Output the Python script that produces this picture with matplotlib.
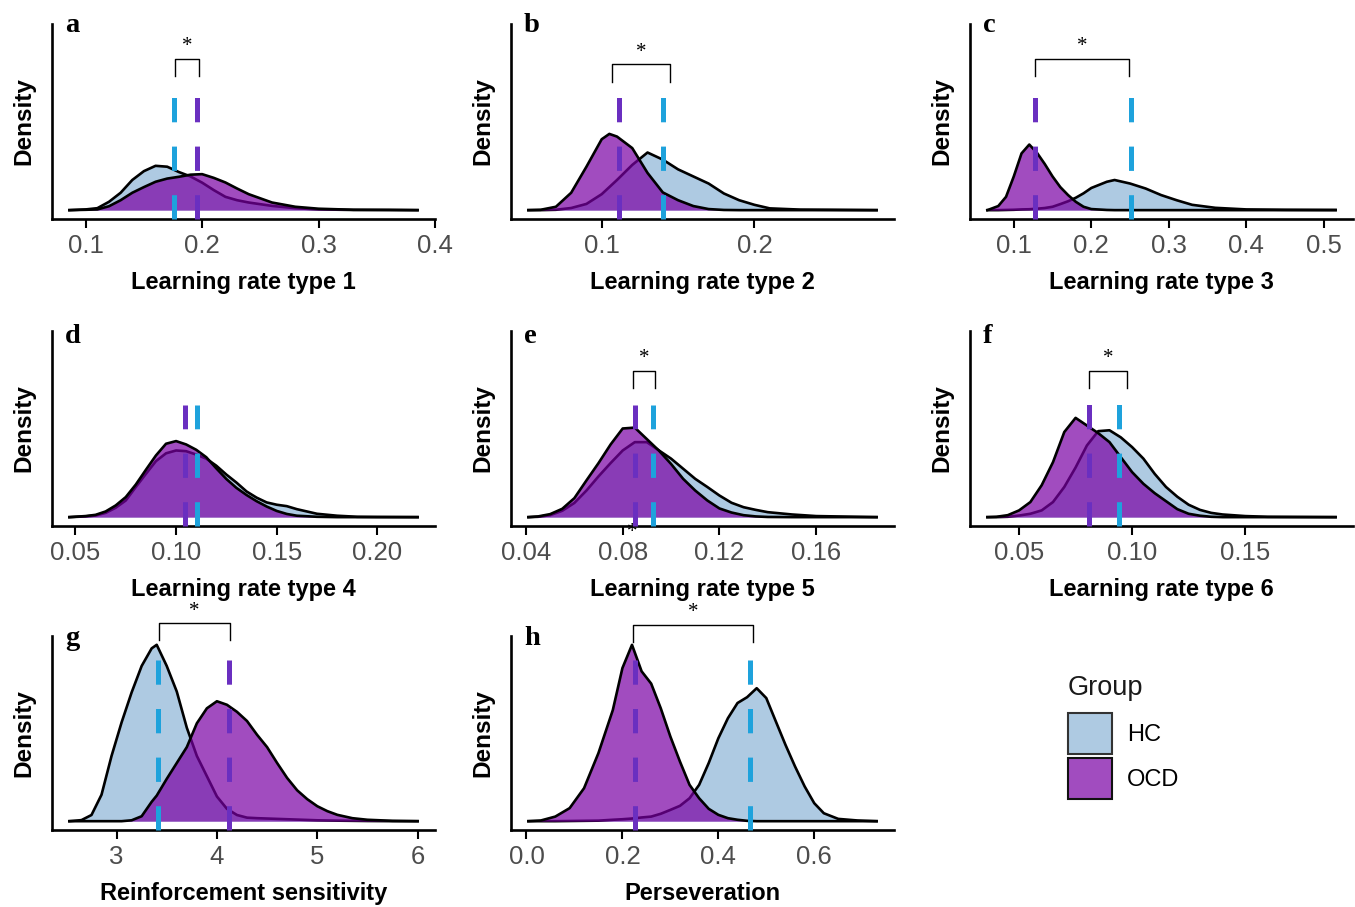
import numpy as np
import matplotlib.pyplot as plt
from matplotlib.patches import Patch
from matplotlib.colors import to_rgba

plt.rcParams['font.family'] = ['Liberation Sans', 'DejaVu Sans']

#---- density curves (relative height, 1 = top of data range)

# a - learning rate type 1
x_lr1 = [0.086, 0.10, 0.11, 0.12, 0.13, 0.14, 0.15, 0.16, 0.17, 0.18, 0.19, 0.20, 0.21,
         0.22, 0.23, 0.24, 0.26, 0.28, 0.30, 0.33, 0.36, 0.385]
hc_lr1 = [0.0, 0.004, 0.011, 0.047, 0.098, 0.17, 0.22, 0.25, 0.245, 0.215, 0.19, 0.155, 0.113,
          0.075, 0.056, 0.043, 0.024, 0.011, 0.004, 0.001, 0.001, 0.0]
ocd_lr1 = [0.0, 0.002, 0.004, 0.022, 0.056, 0.098, 0.13, 0.16, 0.178, 0.188, 0.20, 0.203, 0.182,
           0.156, 0.122, 0.09, 0.043, 0.019, 0.008, 0.002, 0.001, 0.0]

# b - learning rate type 2
x_lr2 = [0.052, 0.06, 0.07, 0.08, 0.09, 0.10, 0.105, 0.11, 0.12, 0.13, 0.14, 0.15, 0.16,
         0.17, 0.18, 0.19, 0.20, 0.21, 0.23, 0.25, 0.28]
hc_lr2 = [0.0, 0.0, 0.002, 0.012, 0.035, 0.09, 0.13, 0.17, 0.255, 0.325, 0.285, 0.23, 0.19,
          0.15, 0.094, 0.056, 0.03, 0.01, 0.003, 0.002, 0.0]
ocd_lr2 = [0.0, 0.002, 0.019, 0.098, 0.245, 0.40, 0.43, 0.415, 0.35, 0.21, 0.10, 0.056, 0.023,
           0.006, 0.001, 0.0, 0.0, 0.0, 0.0, 0.0, 0.0]

# c - learning rate type 3
x_lr3 = [0.066, 0.08, 0.09, 0.10, 0.11, 0.12, 0.13, 0.14, 0.15, 0.16, 0.17, 0.18, 0.19, 0.20,
         0.22, 0.23, 0.25, 0.27, 0.29, 0.31, 0.33, 0.36, 0.40, 0.45, 0.515]
hc_lr3 = [0.0, 0.0, 0.001, 0.002, 0.004, 0.005, 0.008, 0.012, 0.019, 0.034, 0.05, 0.07, 0.095,
          0.125, 0.16, 0.17, 0.15, 0.122, 0.085, 0.056, 0.03, 0.013, 0.004, 0.002, 0.001]
ocd_lr3 = [0.0, 0.023, 0.075, 0.19, 0.32, 0.37, 0.323, 0.26, 0.19, 0.13, 0.085, 0.047, 0.019,
           0.006, 0.001, 0.0, 0.0, 0.0, 0.0, 0.0, 0.0, 0.0, 0.0, 0.0, 0.0]

# d - learning rate type 4
x_lr4 = [0.047, 0.055, 0.06, 0.065, 0.07, 0.075, 0.08, 0.085, 0.09, 0.095, 0.10, 0.105, 0.11,
         0.115, 0.12, 0.125, 0.13, 0.135, 0.14, 0.145, 0.15, 0.155, 0.16, 0.17, 0.18, 0.19,
         0.20, 0.22]
hc_lr4 = [0.0, 0.004, 0.009, 0.024, 0.053, 0.094, 0.17, 0.244, 0.316, 0.36, 0.376, 0.372, 0.353,
          0.33, 0.29, 0.24, 0.195, 0.145, 0.11, 0.083, 0.07, 0.062, 0.045, 0.019, 0.008, 0.002,
          0.001, 0.0]
ocd_lr4 = [0.0, 0.006, 0.013, 0.032, 0.066, 0.113, 0.184, 0.267, 0.348, 0.414, 0.429, 0.41, 0.38,
           0.338, 0.275, 0.215, 0.165, 0.125, 0.09, 0.06, 0.035, 0.018, 0.008, 0.002, 0.0, 0.0,
           0.0, 0.0]

# e - learning rate type 5
x_lr5 = [0.041, 0.045, 0.05, 0.055, 0.06, 0.065, 0.07, 0.075, 0.08, 0.085, 0.09, 0.095, 0.10,
         0.105, 0.11, 0.115, 0.12, 0.125, 0.13, 0.135, 0.14, 0.15, 0.16, 0.185]
hc_lr5 = [0.0, 0.002, 0.011, 0.036, 0.08, 0.15, 0.23, 0.305, 0.376, 0.423, 0.423, 0.376, 0.33,
          0.273, 0.216, 0.17, 0.122, 0.081, 0.056, 0.041, 0.028, 0.015, 0.006, 0.0]
ocd_lr5 = [0.0, 0.004, 0.017, 0.047, 0.107, 0.207, 0.305, 0.41, 0.50, 0.505, 0.44, 0.375, 0.30,
           0.216, 0.15, 0.094, 0.049, 0.026, 0.011, 0.004, 0.001, 0.0, 0.0, 0.0]

# f - learning rate type 6
x_lr6 = [0.036, 0.04, 0.045, 0.05, 0.055, 0.06, 0.065, 0.07, 0.075, 0.08, 0.085, 0.09, 0.095,
         0.10, 0.105, 0.11, 0.115, 0.12, 0.125, 0.13, 0.135, 0.14, 0.15, 0.16, 0.175, 0.19]
hc_lr6 = [0.0, 0.0, 0.002, 0.009, 0.019, 0.038, 0.085, 0.17, 0.28, 0.404, 0.485, 0.49, 0.45,
          0.395, 0.33, 0.244, 0.17, 0.115, 0.07, 0.041, 0.024, 0.015, 0.006, 0.002, 0.001, 0.0]
ocd_lr6 = [0.0, 0.002, 0.011, 0.038, 0.085, 0.18, 0.31, 0.48, 0.56, 0.517, 0.474, 0.423, 0.338,
           0.254, 0.188, 0.135, 0.09, 0.045, 0.019, 0.008, 0.002, 0.0, 0.0, 0.0, 0.0, 0.0]

# g - reinforcement sensitivity
x_rs = [2.53, 2.65, 2.75, 2.85, 2.95, 3.05, 3.15, 3.25, 3.35, 3.40, 3.5, 3.6, 3.7, 3.8, 3.9,
        4.0, 4.1, 4.2, 4.3, 4.4, 4.5, 4.6, 4.7, 4.8, 4.9, 5.0, 5.1, 5.2, 5.35, 5.5, 5.75, 6.0]
hc_rs = [0.0, 0.006, 0.035, 0.15, 0.37, 0.56, 0.73, 0.88, 0.98, 1.0, 0.88, 0.735, 0.53, 0.37,
         0.255, 0.14, 0.07, 0.035, 0.02, 0.017, 0.015, 0.013, 0.011, 0.009, 0.007, 0.005, 0.004,
         0.003, 0.002, 0.001, 0.0, 0.0]
ocd_rs = [0.0, 0.0, 0.0, 0.0, 0.0, 0.0, 0.005, 0.028, 0.11, 0.145, 0.24, 0.33, 0.42, 0.555,
          0.64, 0.68, 0.66, 0.62, 0.568, 0.49, 0.42, 0.33, 0.245, 0.175, 0.125, 0.085, 0.057,
          0.036, 0.017, 0.008, 0.002, 0.0]

# h - perseveration
x_pers = [0.004, 0.03, 0.06, 0.09, 0.12, 0.15, 0.18, 0.20, 0.22, 0.24, 0.26, 0.28, 0.30, 0.32,
          0.34, 0.36, 0.38, 0.40, 0.42, 0.44, 0.46, 0.48, 0.50, 0.52, 0.54, 0.56, 0.58, 0.60,
          0.62, 0.65, 0.69, 0.73]
hc_pers = [0.0, 0.0, 0.0, 0.001, 0.002, 0.003, 0.008, 0.011, 0.015, 0.021, 0.026, 0.042, 0.064,
           0.087, 0.13, 0.206, 0.33, 0.47, 0.584, 0.67, 0.703, 0.754, 0.698, 0.565, 0.433, 0.31,
           0.197, 0.102, 0.045, 0.013, 0.004, 0.0]
ocd_pers = [0.0, 0.004, 0.026, 0.074, 0.187, 0.386, 0.63, 0.868, 1.0, 0.85, 0.78, 0.64, 0.48,
            0.338, 0.206, 0.13, 0.07, 0.036, 0.017, 0.008, 0.002, 0.0, 0.0, 0.0, 0.0, 0.0, 0.0,
            0.0, 0.0, 0.0, 0.0, 0.0]

#---- group means (dashed lines) and significance brackets
mean_hc = [0.1755, 0.140, 0.251, 0.1105, 0.0924, 0.0943, 3.41, 0.466]
mean_ocd = [0.1957, 0.111, 0.127, 0.1045, 0.085, 0.0809, 4.12, 0.2254]
dash_top = [0.64, 0.64, 0.64, 0.635, 0.635, 0.64, 0.913, 0.913]
br_lo = [0.177, 0.1066, 0.128, None, 0.0844, 0.0809, 3.42, 0.223]
br_hi = [0.197, 0.1449, 0.249, None, 0.0932, 0.0979, 4.13, 0.472]
br_y = [0.855, 0.823, 0.853, None, 0.827, 0.827, 1.123, 1.113]

letters = ['a', 'b', 'c', 'd', 'e', 'f', 'g', 'h']
xlabels = ['Learning rate type 1', 'Learning rate type 2', 'Learning rate type 3',
           'Learning rate type 4', 'Learning rate type 5', 'Learning rate type 6',
           'Reinforcement sensitivity', 'Perseveration']
xticks = [[0.1, 0.2, 0.3, 0.4], [0.1, 0.2], [0.1, 0.2, 0.3, 0.4, 0.5],
          [0.05, 0.10, 0.15, 0.20], [0.04, 0.08, 0.12, 0.16], [0.05, 0.10, 0.15],
          [3, 4, 5, 6], [0.0, 0.2, 0.4, 0.6]]
xticklabels = [['0.1', '0.2', '0.3', '0.4'], ['0.1', '0.2'], ['0.1', '0.2', '0.3', '0.4', '0.5'],
               ['0.05', '0.10', '0.15', '0.20'], ['0.04', '0.08', '0.12', '0.16'],
               ['0.05', '0.10', '0.15'], ['3', '4', '5', '6'], ['0.0', '0.2', '0.4', '0.6']]

curves = [(x_lr1, hc_lr1, ocd_lr1), (x_lr2, hc_lr2, ocd_lr2), (x_lr3, hc_lr3, ocd_lr3),
          (x_lr4, hc_lr4, ocd_lr4), (x_lr5, hc_lr5, ocd_lr5), (x_lr6, hc_lr6, ocd_lr6),
          (x_rs, hc_rs, ocd_rs), (x_pers, hc_pers, ocd_pers)]

HC_FILL = '#aecae2'
OCD_FILL = '#7a00a4'
HC_DASH = '#1ea2dc'
OCD_DASH = '#6a2fc0'

#---- layout (pixels of the 1355x907 figure)
W, H = 1355, 907
col_left = [52, 511, 970]
ax_w = 383
rows = [(24, 219), (331, 526), (636, 830)]
letter_base = [32, 343, 645]

fig = plt.figure(figsize=(W / 100, H / 100), dpi=100)

for i in range(8):
    r, c = divmod(i, 3)
    top, bot = rows[r]
    ax = fig.add_axes([col_left[c] / W, 1 - bot / H, ax_w / W, (bot - top) / H])
    x, hc, ocd = curves[i]

    ax.fill_between(x, hc, color=HC_FILL, lw=0, zorder=1)
    ax.plot(x, hc, color='black', lw=1.9, zorder=2, solid_joinstyle='round')
    ax.fill_between(x, ocd, color=OCD_FILL, alpha=0.7, lw=0, zorder=3)
    ax.plot(x, ocd, color='black', lw=1.9, zorder=4, solid_joinstyle='round')

    for m, col in [(mean_hc[i], HC_DASH), (mean_ocd[i], OCD_DASH)]:
        ax.plot([m, m], [-0.05, dash_top[i]], color=col, lw=3.6,
                linestyle=(0, (4.86, 4.86)), zorder=5, clip_on=False)

    if br_y[i] is not None:
        yb = br_y[i]
        ax.plot([br_lo[i], br_lo[i], br_hi[i], br_hi[i]], [yb - 0.098, yb, yb, yb - 0.098],
                color='black', lw=1.0, zorder=6, clip_on=False)
        ax.text((br_lo[i] + br_hi[i]) / 2, yb + 0.068, '*', ha='center', va='center',
                fontsize=15, family='Liberation Serif', clip_on=False)

    ax.margins(x=0.05)
    ax.set_ylim(-0.05, 1.05)
    ax.set_yticks([])
    ax.set_xticks(xticks[i])
    ax.set_xticklabels(xticklabels[i])
    ax.tick_params(axis='x', length=6.5, width=1.5, color='black', labelcolor='#4d4d4d',
                   labelsize=18.5, pad=4)
    for s in ['top', 'right']:
        ax.spines[s].set_visible(False)
    for s in ['left', 'bottom']:
        ax.spines[s].set_linewidth(1.9)
    ax.set_xlabel(xlabels[i], fontsize=17, fontweight='bold', labelpad=9.5)
    ax.set_ylabel('Density', fontsize=17.5, fontweight='bold', labelpad=12)

    fig.text((col_left[c] + 13) / W, 1 - letter_base[r] / H, letters[i],
             family='Liberation Serif', fontweight='bold', fontsize=20.5, va='baseline')

    if i == 4:
        # stray asterisk under the 0.08 tick in the original
        ax.text(0.0839, -0.085, '*', ha='center', va='center', fontsize=15,
                family='Liberation Serif', clip_on=False)

# legend
fig.text(1068 / W, 1 - 688 / H, 'Group', fontsize=19.5, va='center', ha='left',
         color='#1a1a1a')
handles = [Patch(facecolor=HC_FILL, edgecolor='#333333', lw=1.5),
           Patch(facecolor=to_rgba(OCD_FILL, 0.7), edgecolor='#111111', lw=1.5)]
fig.legend(handles, ['HC', 'OCD'], loc='upper left',
           bbox_to_anchor=(1068 / W, 1 - 713 / H), frameon=False, fontsize=17,
           handlelength=1.85, handleheight=2.3, labelspacing=0.17,
           handletextpad=0.65, borderpad=0, borderaxespad=0)

plt.savefig('out.png', dpi=100)
